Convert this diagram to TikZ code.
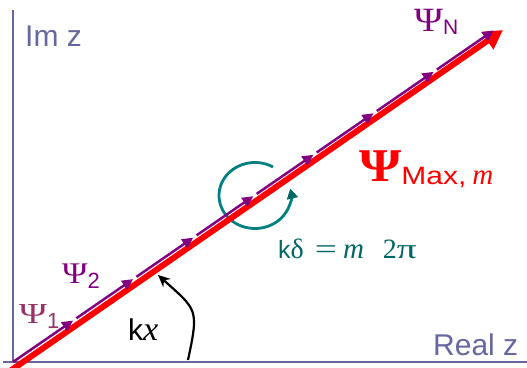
\documentclass[tikz,border=0pt]{standalone}
\usepackage{fontspec}
\setmainfont{Liberation Serif}
\setsansfont{Liberation Sans}
\usepackage{xcolor}
\usepackage{tikz}
\usetikzlibrary{arrows.meta,calc}
\definecolor{axisgray}{RGB}{102,102,160}
\definecolor{psipurple}{RGB}{128,0,128}
\definecolor{psimauve}{RGB}{153,51,102}
\definecolor{maxred}{RGB}{255,0,0}
\definecolor{loopteal}{RGB}{0,128,128}
\definecolor{darkteal}{RGB}{0,102,102}
\newcommand{\fsz}[1]{\fontsize{#1}{#1}\selectfont}

\begin{document}
\begin{tikzpicture}[x=1pt,y=1pt,
    axisline/.style={draw=axisgray,line width=1.8pt},
    axislabel/.style={anchor=base west,inner sep=0pt,text=axisgray,font=\sffamily\fsz{30}},
    psiseg/.style={draw=psipurple,line width=2.5pt,-{Triangle[length=11pt,width=10.5pt]}},
    lbl/.style={anchor=base west,inner sep=0pt}]
  \useasboundingbox (0,0) rectangle (527,367);

  % axes
  \coordinate (O) at (13,5);
  \coordinate (ytop) at (13,357);
  \coordinate (xstart) at (3,5);
  \coordinate (xend) at (527,5);
  \draw[axisline] (ytop) -- (O);
  \draw[axisline] (xstart) -- (xend);
  \node[axislabel] (imlbl) at (25,320) {Im z};
  \node[axislabel] (reallbl) at (433,12) {Real z};

  % phase loop
  \coordinate (lc) at (255,171.5);
  \draw[loopteal,line width=2.8pt,-{Triangle[length=10pt,width=11pt,color=darkteal]}]
    ($(lc)+(60:36 and 33)$) arc[start angle=60,end angle=372,x radius=36,y radius=33];

  % resultant
  \coordinate (rs) at (5,-7.5);
  \coordinate (rtip) at (503,337);
  \draw[maxred,line width=6pt,-{Triangle[length=19pt,width=20pt]}] (rs) -- (rtip);

  % phasors
  \foreach \k in {0,...,8}
    \coordinate (p\k) at ($(O)+(34.6:\k*73)$);
  \foreach \k/\n/\g in {0/1/0,1/2/4,2/3/4,3/4/4,4/5/4,5/6/4,6/7/4,7/8/4}
    \draw[psiseg,shorten <=\g pt] (p\k) -- (p\n);

  % angle
  \coordinate (as) at (188,7);
  \coordinate (ae) at (158,92);
  \draw[black,line width=2.2pt,-{Stealth[length=12pt,width=11pt]}]
    (as) to[out=78,in=-42,looseness=1.5] (ae);
  \node[lbl] (kxlbl) at (128,27) {\sffamily\fsz{30}k\rmfamily\itshape\fsz{34}x};

  % labels
  \node[lbl,text=psimauve] (psione) at (19,44)
    {\fsz{29}\scalebox{1.3}[1]{Ψ}\raisebox{-5pt}{\sffamily\fsz{22}1}};
  \node[lbl,text=psipurple] (psitwo) at (62,84)
    {\fsz{30}\scalebox{1.15}[1]{Ψ}\raisebox{-5pt}{\sffamily\fsz{22}2}};
  \node[lbl,text=psipurple] (psin) at (414,335)
    {\fsz{34}\scalebox{1.15}[1]{Ψ}\raisebox{-3pt}{\sffamily\fsz{21}N}};
  \node[lbl,text=maxred] (psimax) at (359,185)
    {{\fsz{47}\bfseries\scalebox{1.15}[1]{Ψ}}\raisebox{-3pt}{\sffamily\fsz{25}\scalebox{1.2}[1]{Max,}\hspace{6pt}\rmfamily\itshape\fsz{29}m}};
  \node[lbl,text=darkteal] (kdelta) at (278,109)
    {\sffamily\fsz{25}k\rmfamily\fsz{28}δ\hspace{11pt}\scalebox{1.4}[1]{=}\hspace{6pt}{\itshape\fsz{29}m}\hspace{19pt}2\scalebox{1.4}[1]{π}};
\end{tikzpicture}
\end{document}
